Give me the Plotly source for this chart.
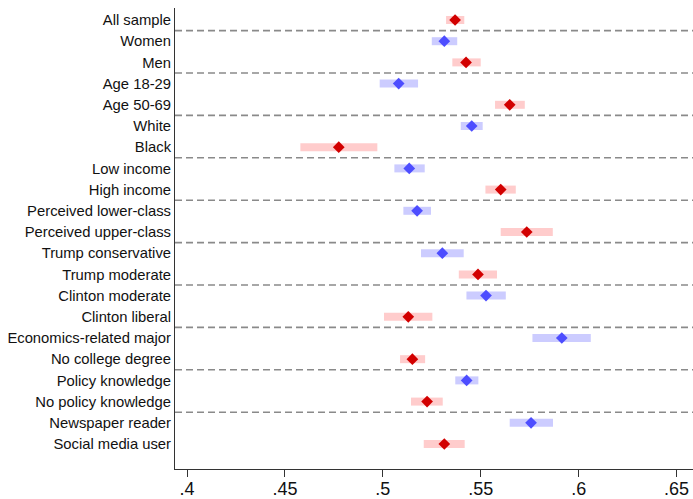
import plotly.graph_objects as go

# Subgroup estimates with 95% confidence intervals
labels = [
    "All sample", "Women", "Men", "Age 18-29", "Age 50-69", "White", "Black",
    "Low income", "High income", "Perceived lower-class", "Perceived upper-class",
    "Trump conservative", "Trump moderate", "Clinton moderate", "Clinton liberal",
    "Economics-related major", "No college degree", "Policy knowledge",
    "No policy knowledge", "Newspaper reader", "Social media user",
]
estimate = [0.5369, 0.5314, 0.5425, 0.5081, 0.5648, 0.5454, 0.4775,
            0.5135, 0.5602, 0.5175, 0.5735, 0.5304, 0.5486, 0.5527, 0.5130,
            0.5914, 0.5151, 0.5428, 0.5226, 0.5757, 0.5314]
ci_low = [0.5323, 0.5250, 0.5355, 0.4984, 0.5573, 0.5398, 0.4579,
          0.5059, 0.5524, 0.5105, 0.5602, 0.5195, 0.5388, 0.5427, 0.5006,
          0.5764, 0.5088, 0.5370, 0.5144, 0.5648, 0.5209]
ci_high = [0.5416, 0.5380, 0.5500, 0.5180, 0.5725, 0.5510, 0.4972,
           0.5214, 0.5679, 0.5246, 0.5868, 0.5413, 0.5583, 0.5628, 0.5253,
           0.6062, 0.5216, 0.5488, 0.5306, 0.5869, 0.5418]
x_ticks = [0.40, 0.45, 0.50, 0.55, 0.60, 0.65]
x_ticktext = [".4", ".45", ".5", ".55", ".6", ".65"]

rows = list(range(1, len(labels) + 1))

series = {
    "red": dict(idx=[i for i in range(len(labels)) if i % 2 == 0],
                marker="#d20000", band="#ffcccc"),
    "blue": dict(idx=[i for i in range(len(labels)) if i % 2 == 1],
                 marker="#4d4dff", band="#ccccff"),
}

fig = go.Figure()
for name, s in series.items():
    idx = s["idx"]
    fig.add_trace(go.Scatter(
        x=[estimate[i] for i in idx],
        y=[rows[i] for i in idx],
        mode="markers",
        name=name,
        marker=dict(symbol="diamond", size=9, color=s["marker"], line=dict(width=0)),
        error_x=dict(
            type="data", symmetric=False,
            array=[ci_high[i] - estimate[i] for i in idx],
            arrayminus=[estimate[i] - ci_low[i] for i in idx],
            color=s["band"], thickness=8, width=0,
        ),
        showlegend=False,
    ))

# dashed separators between subgroup pairs
for r in [1, 3, 5, 7, 9, 11, 13, 15, 17, 19]:
    fig.add_shape(type="line", xref="paper", x0=0, x1=1, yref="y",
                  y0=r + 0.5, y1=r + 0.5, layer="below",
                  line=dict(color="#8a8a8a", width=1.6, dash="7px,4px"))

fig.update_layout(
    width=693, height=499,
    margin=dict(l=175, r=0, t=8, b=30),
    paper_bgcolor="white", plot_bgcolor="white",
    font=dict(family="Liberation Sans, Arial, sans-serif", color="#111111"),
    xaxis=dict(
        range=[0.39387, 0.6584], tickvals=x_ticks, ticktext=x_ticktext,
        showgrid=False, zeroline=False, showline=True, linecolor="#333333",
        linewidth=1, ticks="outside", ticklen=7, tickcolor="#333333",
        tickfont=dict(size=18, color="#111111"), automargin=False,
        ticklabelstandoff=-4,
    ),
    yaxis=dict(
        range=[22.18, 0.434], tickvals=rows, ticktext=labels,
        showgrid=False, zeroline=False, showline=True, linecolor="#333333",
        linewidth=1, ticks="", tickfont=dict(size=14.8, color="#111111"),
        automargin=False,
    ),
)

fig.write_html("out.html")
